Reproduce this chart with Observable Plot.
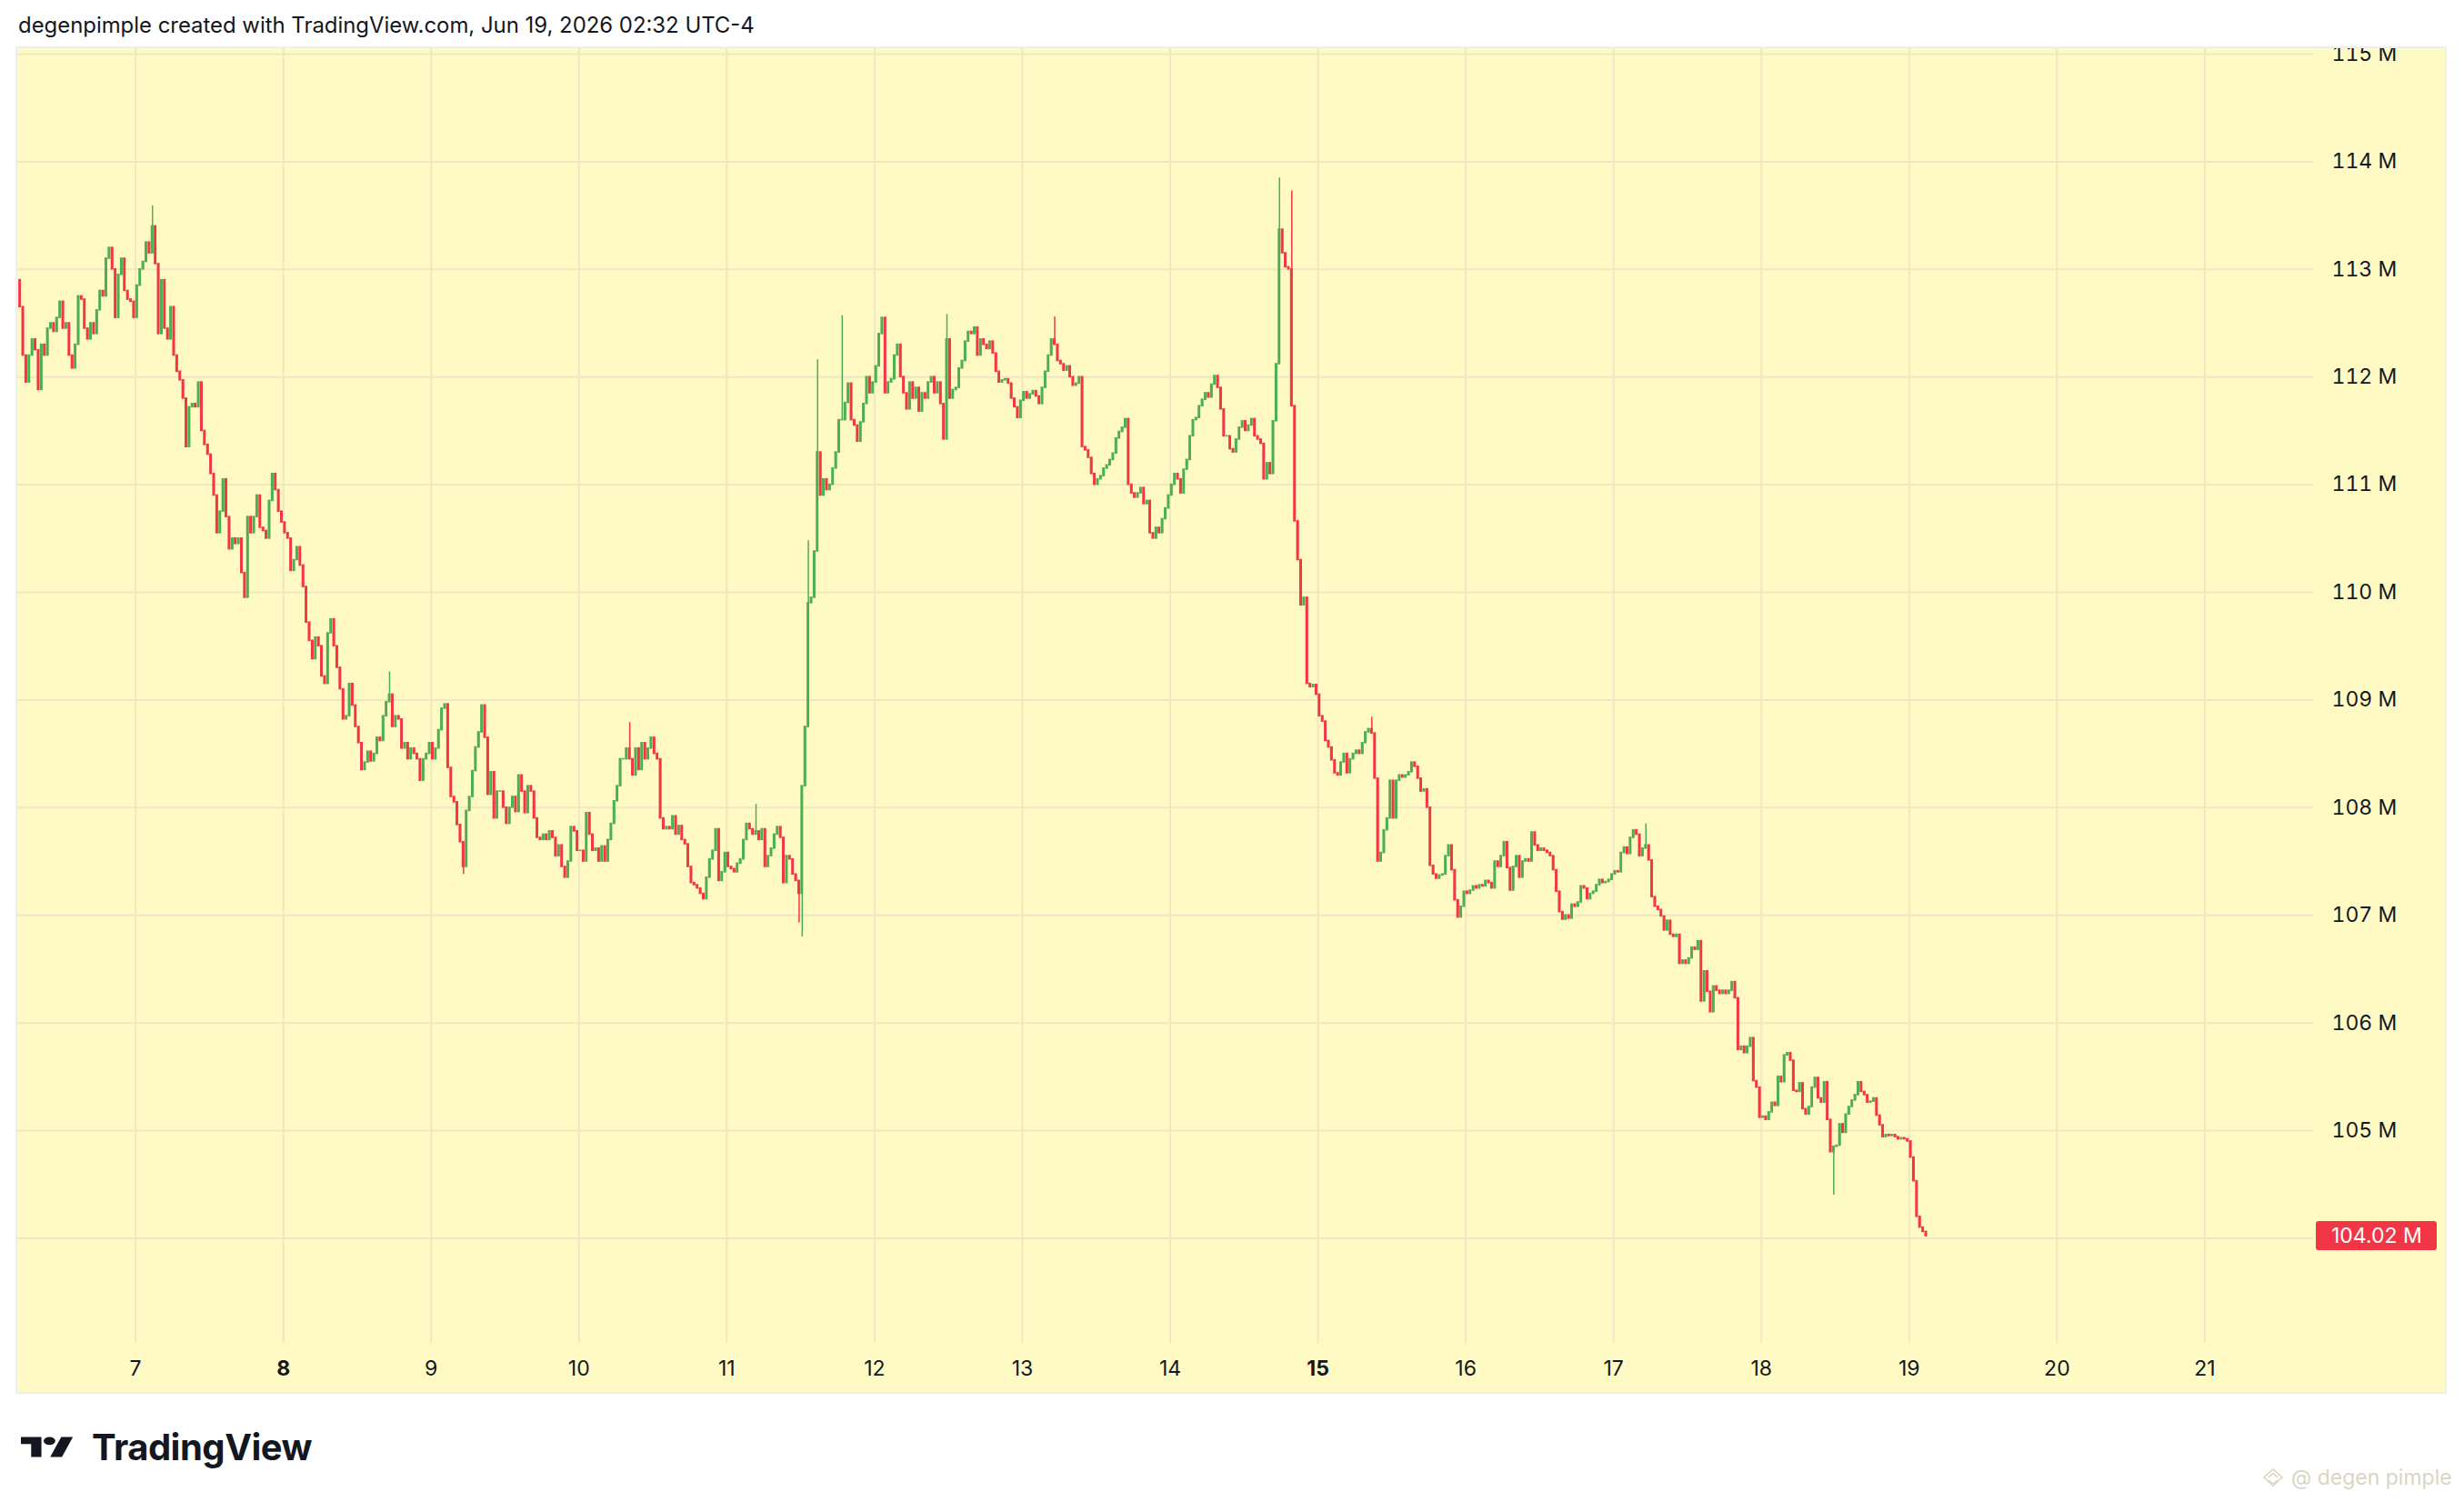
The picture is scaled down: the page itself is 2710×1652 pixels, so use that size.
<!DOCTYPE html>
<html>
<head>
<meta charset="utf-8">
<script src="https://cdn.jsdelivr.net/npm/d3@7"></script>
<script src="https://cdn.jsdelivr.net/npm/@observablehq/plot@0.6"></script>
<style>
html,body{margin:0;padding:0;background:#ffffff;}
body{width:2710px;height:1652px;position:relative;overflow:hidden;font-family:Inter,"Noto Sans",sans-serif;}
#title{position:absolute;left:20px;top:13px;font-size:23.9px;color:#131722;white-space:nowrap;}
#chart{position:absolute;left:19px;top:53px;width:2670px;height:1478px;background:#fff9c4;outline:2px solid #eeeeee;}
#chart svg{display:block;}
#logo{position:absolute;left:23px;top:1569px;height:44px;display:flex;align-items:center;}
#logo span{font-size:40px;font-weight:700;color:#131722;letter-spacing:-0.5px;margin-left:20px;}
#wm{position:absolute;left:2486px;top:1609px;height:32px;display:flex;align-items:center;color:#d9d5c2;font-size:23px;white-space:nowrap;}
#wm span{margin-left:6px;}
</style>
</head>
<body>
<div id="title">degenpimple created with TradingView.com, Jun 19, 2026 02:32 UTC-4</div>
<div id="chart"></div>
<div id="logo">
  <svg width="58" height="31" viewBox="0 0 36 28" preserveAspectRatio="none"><path fill="#131722" d="M14 24H7V11H0V4h14v20zM28 24h-8l7.5-20h8L28 24z"/><circle fill="#131722" cx="19.5" cy="8" r="4"/></svg>
  <span>TradingView</span>
</div>
<div id="wm">
  <svg width="28" height="22" viewBox="0 0 28 22"><g fill="none" stroke="#d9d5c2" stroke-width="1.6"><path d="M14 2 L24 11 L14 20 L4 11 Z"/><path d="M9 11 L14 6.5 L19 11"/><path d="M9 14 L14 18"/><path d="M19 14 L14 18"/></g></svg>
  <span>@ degen pimple</span>
</div>
<script>
// ---- data: 30-minute closes, Jun 6 (from 05:00) to Jun 19 02:30 (UTC-4) ----
const firstOpen = 112.9;
const day6 = [112.65,112.2,111.95,112.2,112.35,112.25,111.88,112.3,112.2,112.45,112.5,112.42,112.55,112.7,112.45,112.5,112.2,112.08,112.3,112.75,112.72,112.45,112.35,112.5,112.4,112.62,112.8,112.75,113.1,113.2,113.0,112.55,112.95,113.1,112.8,112.72,112.7,112.55];
const day7 = [112.85,113.0,113.07,113.25,113.15,113.4,113.05,112.4,112.9,112.45,112.35,112.65,112.2,112.05,111.97,111.8,111.35,111.72,111.75,111.72,111.95,111.5,111.37,111.28,111.1,110.9,110.55,110.75,111.05,110.7,110.4,110.5,110.45,110.5,110.18,109.95,110.7,110.55,110.7,110.9,110.6,110.57,110.5,110.85,111.1,110.95,110.75,110.65];
const day8 = [110.55,110.5,110.2,110.3,110.42,110.25,110.05,109.72,109.55,109.38,109.58,109.5,109.22,109.15,109.62,109.75,109.5,109.3,109.1,108.82,108.85,109.15,108.95,108.75,108.6,108.35,108.42,108.52,108.43,108.5,108.65,108.62,108.85,108.98,109.05,108.75,108.85,108.82,108.55,108.6,108.45,108.55,108.5,108.45,108.25,108.45,108.5,108.6];
const day9 = [108.45,108.55,108.72,108.92,108.96,108.37,108.1,108.05,107.84,107.68,107.45,107.97,108.1,108.34,108.56,108.7,108.95,108.65,108.12,108.33,107.9,108.15,108.15,108.0,107.85,108.0,108.1,107.96,108.3,108.15,107.95,108.2,108.15,107.9,107.72,107.7,107.75,107.7,107.78,107.72,107.55,107.65,107.45,107.35,107.5,107.82,107.78,107.6];
const day10 = [107.6,107.5,107.95,107.75,107.6,107.62,107.5,107.64,107.5,107.7,107.85,108.06,108.2,108.45,108.45,108.55,108.45,108.3,108.55,108.35,108.6,108.45,108.55,108.65,108.5,108.45,107.9,107.8,107.82,107.8,107.92,107.75,107.83,107.7,107.66,107.45,107.3,107.28,107.25,107.2,107.15,107.35,107.52,107.6,107.8,107.32,107.4,107.58];
const day11 = [107.45,107.43,107.4,107.48,107.52,107.7,107.85,107.8,107.75,107.78,107.7,107.8,107.45,107.55,107.62,107.75,107.82,107.72,107.3,107.55,107.52,107.38,107.32,107.2,108.2,108.75,109.9,109.95,110.38,111.3,110.9,111.05,110.95,111.0,111.15,111.3,111.6,111.6,111.76,111.94,111.6,111.55,111.4,111.58,111.75,112.0,111.85,111.95];
const day12 = [112.1,112.4,112.55,111.85,111.95,111.98,112.2,112.3,112.0,111.85,111.7,111.95,111.8,111.9,111.68,111.85,111.8,111.95,112.0,111.85,111.95,111.75,111.42,112.35,111.8,111.88,111.9,112.08,112.15,112.33,112.42,112.4,112.46,112.2,112.35,112.3,112.26,112.33,112.22,112.05,111.95,111.97,111.98,111.94,111.8,111.72,111.62,111.78];
const day13 = [111.86,111.8,111.84,111.87,111.82,111.75,111.9,112.05,112.2,112.35,112.3,112.15,112.12,112.06,112.1,112.0,111.92,111.94,112.0,111.35,111.32,111.25,111.1,111.0,111.05,111.08,111.15,111.18,111.23,111.29,111.43,111.49,111.53,111.61,111.0,110.92,110.88,110.92,110.97,110.82,110.85,110.55,110.5,110.6,110.55,110.68,110.78,110.9];
const day14 = [111.0,111.1,111.05,110.92,111.14,111.23,111.45,111.6,111.62,111.73,111.79,111.85,111.81,111.93,112.01,111.9,111.7,111.45,111.45,111.33,111.3,111.42,111.53,111.59,111.5,111.55,111.61,111.45,111.42,111.38,111.05,111.2,111.1,111.59,112.12,113.37,113.15,113.02,113.0,111.73,110.66,110.3,109.88,109.95,109.15,109.12,109.14,109.05];
const day15 = [108.85,108.8,108.62,108.56,108.44,108.32,108.3,108.42,108.5,108.32,108.45,108.5,108.53,108.5,108.6,108.7,108.73,108.69,108.27,107.5,107.58,107.79,107.9,108.25,107.9,108.25,108.3,108.28,108.3,108.33,108.42,108.38,108.27,108.15,108.17,108.0,107.46,107.38,107.34,107.37,107.38,107.55,107.65,107.42,107.14,106.98,107.08,107.22];
const day16 = [107.2,107.23,107.27,107.25,107.28,107.27,107.32,107.3,107.25,107.5,107.45,107.55,107.68,107.44,107.23,107.45,107.55,107.35,107.5,107.52,107.5,107.77,107.65,107.6,107.62,107.6,107.58,107.55,107.42,107.22,107.03,106.96,107.0,106.97,107.1,107.08,107.12,107.27,107.25,107.15,107.2,107.22,107.28,107.33,107.3,107.31,107.33,107.38];
const day17 = [107.41,107.4,107.58,107.63,107.57,107.72,107.79,107.75,107.55,107.62,107.65,107.51,107.17,107.08,107.05,106.99,106.86,106.95,106.82,106.8,106.82,106.55,106.58,106.55,106.6,106.7,106.68,106.76,106.2,106.48,106.29,106.1,106.34,106.3,106.27,106.3,106.27,106.3,106.38,106.23,105.75,105.78,105.72,105.78,105.86,105.46,105.4,105.12];
const day18 = [105.13,105.1,105.17,105.26,105.23,105.5,105.45,105.7,105.72,105.65,105.37,105.36,105.44,105.2,105.15,105.22,105.4,105.49,105.3,105.26,105.45,105.1,104.8,104.85,104.86,105.06,104.98,105.15,105.22,105.28,105.33,105.45,105.36,105.33,105.26,105.27,105.3,105.14,105.05,104.94,104.96,104.95,104.96,104.94,104.92,104.93,104.92,104.9];
const day19 = [104.75,104.53,104.2,104.1,104.06,104.02];

// notable wicks (candle start time, high, low)
const wickTimes = ["06-07 02:30","06-08 17:00","06-09 05:00","06-10 08:00","06-11 04:30","06-11 11:30","06-11 12:00","06-11 13:00","06-11 14:30","06-11 18:30","06-12 11:30","06-13 05:00","06-14 17:30","06-14 19:30","06-15 08:30","06-17 05:00","06-18 11:30"];
const wickHighs = [113.59,109.26,null,108.79,108.03,null,null,110.48,112.16,112.57,112.58,112.56,113.85,113.73,108.84,107.85,null];
const wickLows  = [null,null,107.38,null,null,106.93,106.8,null,null,null,null,null,null,null,null,null,104.4];

const dayNumbers = [6,7,8,9,10,11,12,13,14,15,16,17,18,19];
const dayArrays = [day6,day7,day8,day9,day10,day11,day12,day13,day14,day15,day16,day17,day18,day19];
const firstSlot = 10; // Jun 6 starts at 05:00

const gridTicks = [104,105,106,107,108,109,110,111,112,113,114,115];
const labelTicks = [105,106,107,108,109,110,111,112,113,114,115]; // 104 M sits under the price tag
const xTickDays = [7,8,9,10,11,12,13,14,15,16,17,18,19,20,21];
const boldDays = [8,15];
const lastPrice = 104.02;

const upColor = "#4caf50", downColor = "#f23645";
const gridColor = "#efe7c1";

// ---- build candles ----
const MIN = 60000, DAY = 86400000;
const dayToDate = d => new Date(Date.UTC(2026, 5, 1) + (d - 1) * DAY);
const keyFmt = d3.utcFormat("%m-%d %H:%M");
const wickMap = new Map(wickTimes.map((k, i) => [k, {h: wickHighs[i], l: wickLows[i]}]));
const candles = [];
let prev = firstOpen;
dayArrays.forEach((arr, j) => {
  const s0 = j === 0 ? firstSlot : 0;
  arr.forEach((c, i) => {
    const start = Date.UTC(2026, 5, dayNumbers[j]) + (s0 + i) * 30 * MIN;
    const o = prev;
    let high = Math.max(o, c), low = Math.min(o, c);
    const w = wickMap.get(keyFmt(new Date(start)));
    if (w) { if (w.h != null) high = Math.max(high, w.h); if (w.l != null) low = Math.min(low, w.l); }
    candles.push({mid: new Date(start + 15 * MIN), x1: new Date(start + 2 * MIN), x2: new Date(start + 28 * MIN), open: o, close: c, high, low, up: c >= o});
    prev = c;
  });
});
const ups = candles.filter(d => d.up), downs = candles.filter(d => !d.up);

const W = 2670, H = 1478;
const chart = Plot.plot({
  width: W, height: H,
  marginLeft: 0, marginRight: 145, marginTop: 0, marginBottom: 54,
  style: {background: "transparent", color: "#131722", fontFamily: "Inter, 'Noto Sans', sans-serif", overflow: "hidden"},
  x: {type: "utc", domain: [dayToDate(6.2028), dayToDate(21.7355)], axis: null},
  y: {domain: [103.024, 115.0507]},
  marks: [
    Plot.gridY(gridTicks, {stroke: gridColor, strokeOpacity: 1, strokeWidth: 2}),
    Plot.gridX(xTickDays.map(dayToDate), {stroke: gridColor, strokeOpacity: 1, strokeWidth: 2}),
    Plot.ruleX(ups, {x: "mid", y1: "low", y2: "high", stroke: upColor, strokeWidth: 1.5, clip: true}),
    Plot.ruleX(downs, {x: "mid", y1: "low", y2: "high", stroke: downColor, strokeWidth: 1.5, clip: true}),
    Plot.rect(ups, {x1: "x1", x2: "x2", y1: "open", y2: "close", fill: upColor, insetTop: -0.8, insetBottom: -0.8, clip: true}),
    Plot.rect(downs, {x1: "x1", x2: "x2", y1: "open", y2: "close", fill: downColor, insetTop: -0.8, insetBottom: -0.8, clip: true}),
    Plot.axisY(labelTicks, {anchor: "right", tickSize: 0, tickPadding: 20, tickFormat: d => `${d} M`, fontSize: 23, label: null}),
    Plot.text(xTickDays.filter(d => !boldDays.includes(d)), {x: d => dayToDate(d), text: d => String(d), frameAnchor: "bottom", dy: 28, lineAnchor: "middle", fontSize: 23, fill: "#131722"}),
    Plot.text(boldDays, {x: d => dayToDate(d), text: d => String(d), frameAnchor: "bottom", dy: 28, lineAnchor: "middle", fontSize: 23, fontWeight: "bold", fill: "#131722"})
  ]
});

// last price tag on the price scale
const yScale = chart.scale("y"), xScale = chart.scale("x");
const py = yScale.apply(lastPrice);
const right = xScale.range[1];
const svg = d3.select(chart);
svg.append("rect").attr("x", right + 3).attr("y", py - 16).attr("width", 133).attr("height", 32).attr("rx", 3).attr("fill", downColor);
svg.append("text").attr("x", right + 20).attr("y", py).attr("dy", "0.36em").attr("text-anchor", "start").attr("fill", "#ffffff").attr("font-size", 23).text(`${lastPrice.toFixed(2)} M`);

document.getElementById("chart").appendChild(chart);
</script>
</body>
</html>
